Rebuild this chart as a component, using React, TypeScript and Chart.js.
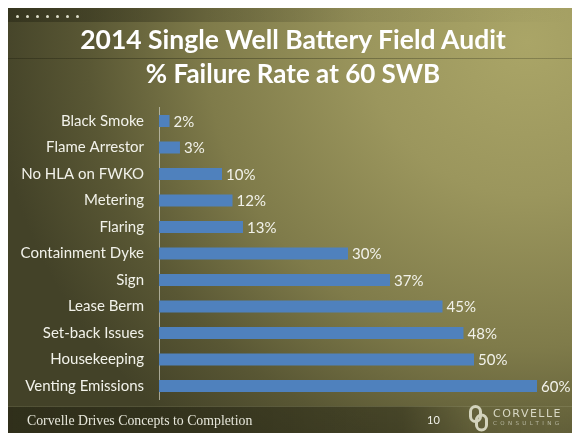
import React, { useEffect, useRef } from "react";
import { Chart, registerables } from "chart.js";

Chart.register(...registerables);

const categories = [
  "Black Smoke",
  "Flame Arrestor",
  "No HLA on FWKO",
  "Metering",
  "Flaring",
  "Containment Dyke",
  "Sign",
  "Lease Berm",
  "Set-back Issues",
  "Housekeeping",
  "Venting Emissions",
];
const failureRates = [1.67, 3.33, 10, 11.67, 13.33, 30, 36.67, 45, 48.33, 50, 60];
const axisMin = 0;
const axisMax = 60;
const titleLines = ["2014 Single Well Battery Field Audit", "% Failure Rate at 60 SWB"];
const footerText = "Corvelle Drives Concepts to Completion";
const pageNumber = "10";

const LABEL_FONT = "Lato, 'Open Sans', sans-serif";

const dataLabelPlugin = {
  id: "dataLabels",
  afterDatasetsDraw(chart: any) {
    const ctx = chart.ctx;
    const meta = chart.getDatasetMeta(0);
    const values = chart.data.datasets[0].data as number[];
    ctx.save();
    ctx.font = `15px ${LABEL_FONT}`;
    ctx.fillStyle = "#f2f2ea";
    ctx.textAlign = "left";
    ctx.textBaseline = "middle";
    meta.data.forEach((bar: any, i: number) => {
      ctx.fillText(`${Math.round(values[i])}%`, bar.x + 4, bar.y + 1);
    });
    ctx.restore();
  },
};

function BarChart() {
  const ref = useRef<HTMLCanvasElement | null>(null);
  useEffect(() => {
    if (!ref.current) return;
    const chart = new Chart(ref.current, {
      type: "bar",
      data: {
        labels: categories,
        datasets: [
          {
            data: failureRates,
            backgroundColor: "#4f81bd",
            borderWidth: 0,
            categoryPercentage: 1,
            barPercentage: 0.45,
          },
        ],
      },
      options: {
        indexAxis: "y",
        responsive: false,
        animation: false,
        devicePixelRatio: 1,
        layout: { padding: { top: 7.75, bottom: 5.75, right: 35, left: 0 } },
        plugins: {
          legend: { display: false },
          tooltip: { enabled: false },
          title: { display: false },
        },
        scales: {
          x: { display: false, min: axisMin, max: axisMax },
          y: {
            grid: { display: false, drawTicks: false },
            border: { display: true, color: "rgba(200,200,185,0.75)", width: 1 },
            ticks: {
              color: "#f2f2ea",
              padding: 15,
              font: { family: LABEL_FONT, size: 15 },
            },
            afterFit: (scale: any) => {
              scale.width = 151;
              scale.paddingTop = 0;
              scale.paddingBottom = 0;
            },
          },
        },
      },
      plugins: [dataLabelPlugin],
    });
    return () => chart.destroy();
  }, []);
  return (
    <canvas
      ref={ref}
      width={564}
      height={305}
      style={{ position: "absolute", left: 0, top: 92, width: 564, height: 305 }}
    />
  );
}

export default function App() {
  const dots = [0, 1, 2, 3, 4, 5, 6];
  return (
    <div
      style={{
        position: "fixed",
        left: 8,
        top: 8,
        width: 564,
        height: 425,
        overflow: "hidden",
        background:
          "radial-gradient(ellipse 95% 120% at 92% 8%, #aaa567 0%, #9b965d 30%, #7f7b4a 60%, #595734 82%, #434228 100%)",
      }}
    >
      <div
        style={{
          position: "absolute",
          left: 0,
          top: 0,
          width: 564,
          height: 14,
          background: "linear-gradient(to right, rgba(40,40,22,0.55), rgba(40,40,22,0.1) 60%, rgba(40,40,22,0))",
        }}
      />
      {dots.map((d) => (
        <div
          key={d}
          style={{
            position: "absolute",
            left: 8 + d * 10,
            top: 7,
            width: 2.5,
            height: 2.5,
            borderRadius: 2,
            background: "#dcdcc8",
          }}
        />
      ))}
      <div
        style={{
          position: "absolute",
          left: 0,
          top: 50,
          width: 564,
          height: 1,
          background: "linear-gradient(to right, rgba(40,40,20,0.5), rgba(70,70,40,0.35))",
        }}
      />
      <div
        style={{
          position: "absolute",
          left: 0,
          top: 14,
          width: 570,
          textAlign: "center",
          color: "#ffffff",
          fontFamily: LABEL_FONT,
          fontWeight: 700,
          fontSize: 26.5,
          lineHeight: "34px",
        }}
      >
        <div>{titleLines[0]}</div>
        <div style={{ fontSize: 26 }}>{titleLines[1]}</div>
      </div>
      <BarChart />
      <div
        style={{
          position: "absolute",
          left: 0,
          top: 398,
          width: 564,
          height: 27,
          background:
            "linear-gradient(to right, rgba(35,35,18,0.6), rgba(35,35,18,0.45) 70%, rgba(35,35,18,0.05) 82%, rgba(35,35,18,0))",
          borderTop: "1px solid rgba(150,150,110,0.35)",
        }}
      />
      <div
        style={{
          position: "absolute",
          left: 19,
          top: 405,
          color: "#e6e6da",
          fontFamily: "'Liberation Serif', serif",
          fontSize: 13.8,
          lineHeight: "16px",
          whiteSpace: "nowrap",
        }}
      >
        {footerText}
      </div>
      <div
        style={{
          position: "absolute",
          left: 419,
          top: 405,
          color: "#f2f2ea",
          fontFamily: LABEL_FONT,
          fontSize: 11,
          lineHeight: "14px",
        }}
      >
        {pageNumber}
      </div>
      <svg style={{ position: "absolute", left: 461, top: 397 }} width={20} height={27}>
        <rect x={1.5} y={1.5} width={10} height={15} rx={5} fill="none" stroke="#d3d3bc" strokeWidth={3} />
        <rect x={7.5} y={10} width={10} height={15} rx={5} fill="none" stroke="#d3d3bc" strokeWidth={3} />
      </svg>
      <div
        style={{
          position: "absolute",
          left: 485,
          top: 398.5,
          color: "#d8d8c4",
          fontFamily: "'DejaVu Sans', sans-serif",
          fontSize: 11,
          letterSpacing: 1.5,
          lineHeight: "13px",
          whiteSpace: "nowrap",
        }}
      >
        CORVELLE
      </div>
      <div
        style={{
          position: "absolute",
          left: 485,
          top: 411.5,
          color: "#b8b8a2",
          fontFamily: "'DejaVu Sans', sans-serif",
          fontSize: 5.5,
          letterSpacing: 3.4,
          lineHeight: "7px",
          whiteSpace: "nowrap",
        }}
      >
        CONSULTING
      </div>
    </div>
  );
}
